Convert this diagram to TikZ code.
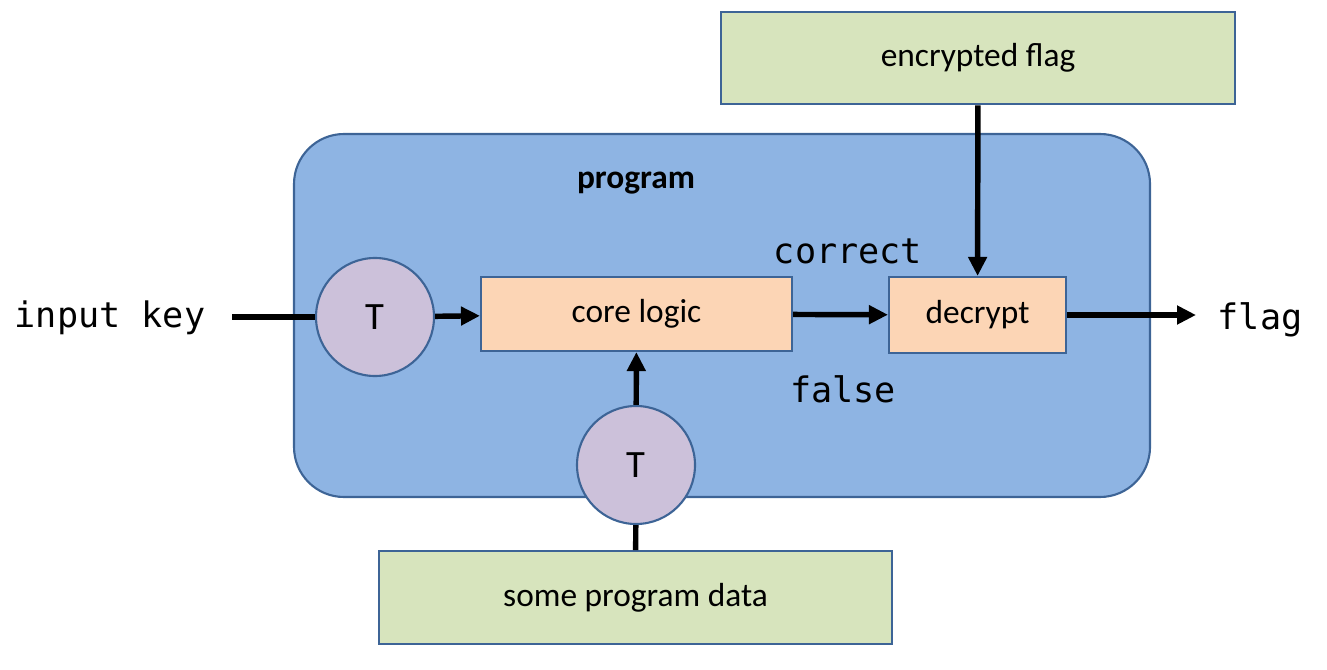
\documentclass[tikz,border=0pt]{standalone}
\usepackage{fontspec}
\setmainfont{Carlito}
\setmonofont{DejaVu Sans Mono}
\usetikzlibrary{arrows.meta}
\definecolor{progblue}{HTML}{8EB4E3}
\definecolor{edgeblue}{HTML}{3D6496}
\definecolor{datagreen}{HTML}{D7E4BD}
\definecolor{logicorange}{HTML}{FCD5B5}
\definecolor{tamperpurple}{HTML}{CCC1DA}
\begin{document}
\begin{tikzpicture}[
    program/.style = {
        rectangle,
        rounded corners = 1cm,
        draw = edgeblue,
        line width = 1.2pt,
        fill = progblue,
        inner sep = 0pt
    },
    data/.style = {
        rectangle,
        minimum height = 1.85cm,
        draw = edgeblue,
        line width = 1.2pt,
        fill = datagreen,
        inner sep = 0pt,
        font = \fontsize{19}{22}\selectfont
    },
    logic/.style = {
        rectangle,
        minimum height = 1.5cm,
        draw = edgeblue,
        line width = 1.2pt,
        fill = logicorange,
        inner sep = 0pt,
        font = \fontsize{19}{22}\selectfont
    },
    tamper/.style = {
        circle,
        minimum size = 2.36cm,
        draw = edgeblue,
        line width = 1.2pt,
        fill = tamperpurple,
        inner sep = 0pt,
        font = \fontsize{22}{26}\selectfont
    },
    arrow/.style = {
        -{Triangle[length = 0.38cm, width = 0.36cm]},
        line width = 3.1pt
    },
    wire/.style = {
        line width = 3.1pt
    },
    io/.style = {
        font = \fontsize{20}{24}\ttfamily
    }
]
    \useasboundingbox (0,0) rectangle (26.54,-13.4);

    % program container
    \node [program, minimum width = 17.12cm, minimum height = 7.26cm] (prog) at (14.44,-6.31) {};
    \node [font = \fontsize{19}{22}\selectfont\bfseries] (proglabel) at (12.72,-3.66) {program};

    % data boxes
    \node [data, minimum width = 10.28cm] (encflag) at (19.56,-1.16) {encrypted flag};
    \node [data, minimum width = 10.26cm] (progdata) at (12.71,-11.95) {some program data};

    % logic boxes
    \node [logic, minimum width = 6.22cm, minimum height = 1.48cm] (core) at (12.73,-6.28) {core logic};
    \node [logic, minimum width = 3.54cm, minimum height = 1.52cm] (decrypt) at (19.55,-6.30) {decrypt};

    % tamper circles
    \node [tamper] (t1) at (7.5,-6.34) {T};
    \node [tamper] (t2) at (12.72,-9.3) {T};

    % inputs and outputs
    \node [io] (inkey) at (2.2,-6.36) {input key};
    \node [io] (flag) at (25.2,-6.4) {flag};
    \node [io] (correct) at (16.96,-5.02) {correct};
    \node [io] (false) at (16.86,-7.78) {false};
    \coordinate (instart) at (4.64,-6.34);
    \coordinate (flagend) at (23.92,-6.30);

    % connections
    \draw [wire] (instart) -- (t1.west);
    \draw [arrow] (t1) -- (core);
    \draw [arrow] (core) -- (decrypt);
    \draw [arrow] (decrypt.east) -- (flagend);
    \draw [arrow] (encflag) -- (decrypt);
    \draw [arrow] (t2) -- (core);
    \draw [wire] (progdata) -- (t2);

\end{tikzpicture}
\end{document}
